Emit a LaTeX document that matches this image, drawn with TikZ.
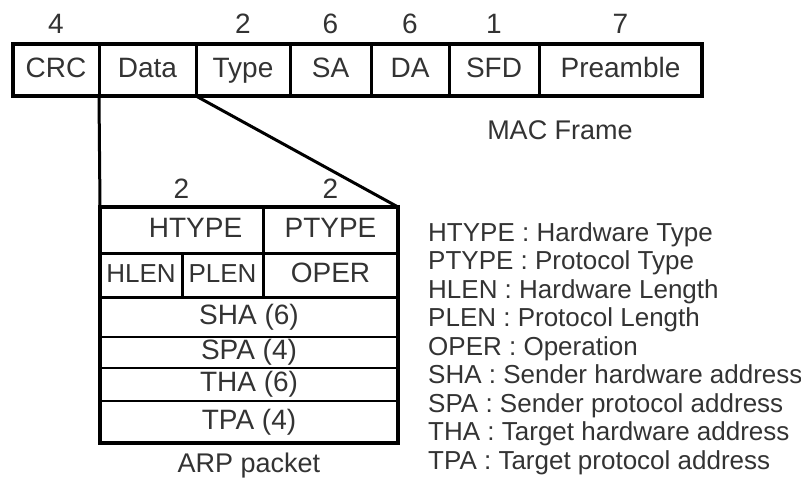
\documentclass[tikz,border=0pt]{standalone}
\usepackage{fontspec}
\setmainfont{Liberation Sans}
\usetikzlibrary{positioning, calc}

\begin{document}
\begin{tikzpicture}[
    x=1pt, y=-1pt,
    field/.style={rectangle, draw=black, line width=3pt, inner sep=0pt, outer sep=0pt, minimum height=52pt, text height=20pt, text depth=6pt, text=black!80, font=\fontsize{28}{30}\selectfont},
    arpfield/.style={field, line width=2pt},
    size/.style={inner sep=0pt, text=black!80, font=\fontsize{28}{30}\selectfont},
    txt/.style={inner sep=0pt, text=black!80, font=\fontsize{27}{30}\selectfont},
    link/.style={line width=3pt}
]
    \useasboundingbox (0,0) rectangle (801,480);

    % MAC frame
    \node[field, minimum width=86pt] (crc) at (56,70) {CRC};
    \node[field, minimum width=97pt, right=0pt of crc] (data) {Data};
    \node[field, minimum width=94pt, right=0pt of data] (type) {Type};
    \node[field, minimum width=81pt, right=0pt of type] (sa) {SA};
    \node[field, minimum width=78pt, right=0pt of sa] (da) {DA};
    \node[field, minimum width=90pt, right=0pt of da] (sfd) {SFD};
    \node[field, minimum width=163pt, right=0pt of sfd] (pre) {Preamble};
    \draw[line width=3.5pt] (crc.north west) rectangle (pre.south east);

    \node[size, above=10pt of crc] (ncrc) {4};
    \node[size, above=10pt of type] (ntype) {2};
    \node[size, above=10pt of sa] (nsa) {6};
    \node[size, above=10pt of da] (nda) {6};
    \node[size, above=10pt of sfd] (nsfd) {1};
    \node[size, above=10pt of pre] (npre) {7};

    \node[txt] (macname) at (560,130) {MAC Frame};

    % ARP packet
    \node[field, minimum width=163pt, minimum height=46pt] (htype) at (181.5,230) {\hspace*{28pt}HTYPE};
    \node[field, minimum width=135pt, minimum height=46pt, right=0pt of htype] (ptype) {PTYPE};
    \node[field, minimum width=82pt, minimum height=44pt, anchor=north west, font=\fontsize{26}{30}\selectfont] (hlen) at (htype.south west) {HLEN};
    \node[field, minimum width=81pt, minimum height=44pt, right=0pt of hlen, font=\fontsize{26}{30}\selectfont] (plen) {PLEN};
    \node[field, minimum width=135pt, minimum height=44pt, right=0pt of plen] (oper) {OPER};
    \node[arpfield, minimum width=298pt, minimum height=40pt, anchor=north west] (sha) at (hlen.south west) {SHA (6)};
    \node[arpfield, minimum width=298pt, minimum height=31pt, anchor=north west] (spa) at (sha.south west) {SPA (4)};
    \node[arpfield, minimum width=298pt, minimum height=33pt, anchor=north west] (tha) at (spa.south west) {THA (6)};
    \node[arpfield, minimum width=298pt, minimum height=42pt, anchor=north west] (tpa) at (tha.south west) {TPA (4)};
    \draw[line width=3.5pt] (htype.north west) rectangle (tpa.south east);

    \node[size, above=8pt of htype] (nhtype) {2};
    \node[size, above=8pt of ptype] (nptype) {2};
    \node[txt, below=10pt of tpa] (arpname) {ARP packet};

    % Data expands into ARP packet
    \draw[link] (data.south west) -- (htype.north west);
    \draw[link] (data.south east) -- (ptype.north east);

    % legend
    \node[txt, align=left, anchor=north west, font=\fontsize{26}{28.5}\selectfont] (legend) at (428,222)
        {HTYPE : Hardware Type\\
         PTYPE : Protocol Type\\
         HLEN : Hardware Length\\
         PLEN : Protocol Length\\
         OPER : Operation\\
         SHA : Sender hardware address\\
         SPA : Sender protocol address\\
         THA : Target hardware address\\
         TPA : Target protocol address};
\end{tikzpicture}
\end{document}
